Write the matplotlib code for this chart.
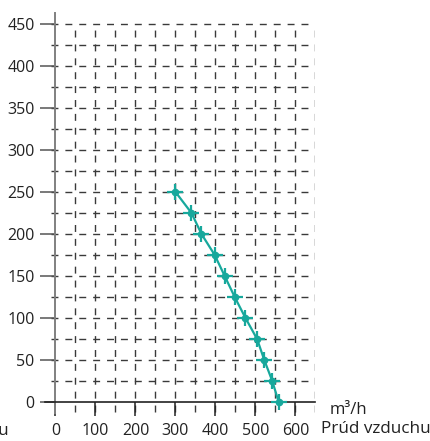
import matplotlib
matplotlib.use("Agg")
import matplotlib.pyplot as plt
import numpy as np

plt.rcParams['font.family'] = ['Open Sans', 'DejaVu Sans']

# Data
flow = [300, 340, 365, 398, 423, 448, 475, 504, 522, 542, 558]      # m3/h
pressure = [250, 225, 200, 175, 150, 125, 100, 75, 50, 25, 0]
xticks = [0, 100, 200, 300, 400, 500, 600]
yticks = [0, 50, 100, 150, 200, 250, 300, 350, 400, 450]
xlabel_unit = "m³/h"
xlabel_text = "Prúd vzduchu"
ylabel_text = "Tlak vzduchu"

W, H = 431, 441
fig = plt.figure(figsize=(W / 100, H / 100), dpi=100)
ax = fig.add_axes([45.5 / W, (H - 413) / H, 270 / W, 400 / H])
ax.set_xlim(-25, 650)
ax.set_ylim(-13, 463)

grid_kw = dict(color='#3a3a3a', lw=1.0, linestyles=(0, (5, 5)), zorder=1)
hy = np.arange(25, 451, 25)
ax.hlines(hy, -12, 650, **grid_kw)
vx = np.arange(50, 651, 50)
ax.vlines(vx, -12, 450, **grid_kw)

for s in ['top', 'right']:
    ax.spines[s].set_visible(False)
ax.spines['left'].set_position(('data', 0))
ax.spines['bottom'].set_position(('data', 0))
ax.spines['left'].set_color('#808080')
ax.spines['left'].set_linewidth(1.4)
ax.spines['bottom'].set_color('#222222')
ax.spines['bottom'].set_linewidth(1.2)
ax.spines['left'].set_zorder(3)
ax.spines['bottom'].set_zorder(3)

ax.set_xticks(xticks)
ax.set_yticks(yticks)
ax.tick_params(axis='x', direction='out', length=10, width=1.1, color='#222222',
               pad=5, labelsize=11.5, labelcolor='#222222')
ax.tick_params(axis='y', direction='out', length=11, width=1.1, color='#555555',
               pad=4, labelsize=11.5, labelcolor='#222222')

teal = '#17A89C'
ax.plot(flow, pressure, color=teal, lw=1.6, zorder=4)
ax.plot(flow, pressure, ls='none', marker='+', ms=12, mew=1.6, color=teal, zorder=5)
ax.plot(flow, pressure, ls='none', marker='o', ms=4.5, color=teal, zorder=5)

fig.text(330 / W, 1 - 410 / H, xlabel_unit, fontsize=12, color='#222222',
         ha='left', va='center')
fig.text(321 / W, 1 - 429 / H, xlabel_text, fontsize=12.3, color='#222222',
         ha='left', va='center')
fig.text(9 / W, 1 - 431 / H, ylabel_text, fontsize=12.3, color='#222222',
         ha='right', va='center')

fig.savefig('out.png', dpi=100)
